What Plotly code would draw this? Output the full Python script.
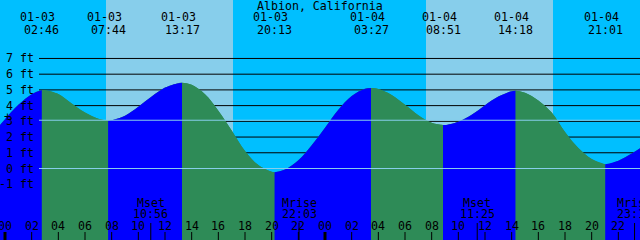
import plotly.graph_objects as go
import numpy as np

TITLE = "Albion, California"

# Hours counted from 01-03 00:00 local time
sample_hours = [-0.375, 0, 1, 2, 3, 4, 5, 6, 7, 8, 9, 10, 11, 12, 13, 14, 15, 16, 17, 18, 19, 20,
                21, 22, 23, 24, 25, 26, 27, 28, 29, 30, 31, 32, 33, 34, 35, 36, 37, 38, 39, 40,
                41, 42, 43, 44, 46, 47, 47.625]
sample_ft = [2.77, 3.14, 4.05, 4.73, 4.98, 4.74, 4.13, 3.56, 3.17, 3.08, 3.36, 3.93, 4.58, 5.15, 5.43,
             5.32, 4.72, 3.68, 2.42, 1.12, 0.22, -0.21,
             -0.07, 0.52, 1.48, 2.60, 3.74, 4.61, 5.07, 5.06, 4.68, 4.05, 3.39, 2.91, 2.77, 2.98,
             3.42, 4.03, 4.58, 4.92, 4.82, 4.33, 3.56, 2.32, 1.30, 0.60, 0.50, 0.95, 1.29]

extreme_hours = [2.767, 7.733, 13.283, 20.217, 27.45, 32.85, 38.3, 45.017]
extreme_ft = [4.99, 3.06, 5.45, -0.24, 5.12, 2.77, 4.95, 0.27]
extreme_dates = ["01-03", "01-03", "01-03", "01-03", "01-04", "01-04", "01-04", "01-04"]
extreme_times = ["02:46", "07:44", "13:17", "20:13", "03:27", "08:51", "14:18", "21:01"]

sunrise_hours = [7.575, 31.575]
sunset_hours = [17.1, 41.1]

moon_hours = [10.933, 22.05, 35.417, 47.217]
moon_names = ["Mset", "Mrise", "Mset", "Mrise"]
moon_times = ["10:56", "22:03", "11:25", "23:13"]

hour_ticks = list(range(0, 49, 2))
day_ticks = [0, 24, 48]
ft_levels = [-1, 0, 1, 2, 3, 4, 5, 6, 7]
MSL_FT = 3.07
DATUM_FT = 0

# ---- style ----
W, H = 640, 240
NIGHT = "#00BFFF"
DAY = "#87CEEB"
FLOOD = "#0000FF"
EBB = "#2E8B57"
LIGHTLINE = "#87CEEB"
FONT = dict(family="DejaVu Sans Mono", size=11.6, color="black")
X_RANGE = [-0.375, 47.625]
Y_RANGE = [-4.548, 10.719]
Y_FLOOR = -7


def py(px):
    """pixel row (from top) -> paper y"""
    return 1 - px / H


fig = go.Figure()

pts = sorted(zip(sample_hours + extreme_hours, sample_ft + extreme_ft))
hrs = np.array([p[0] for p in pts])
fts = np.array([p[1] for p in pts])

# backing fill of whole curve
fig.add_trace(go.Scatter(x=hrs, y=[Y_FLOOR] * len(hrs), mode="lines", line=dict(width=0),
                         hoverinfo="skip", showlegend=False))
fig.add_trace(go.Scatter(x=hrs, y=fts, mode="lines", fill="tonexty", fillcolor=EBB,
                         line=dict(width=0, color=EBB, shape="spline", smoothing=1),
                         hoverinfo="skip", showlegend=False))

bounds = [hrs[0]] + extreme_hours + [hrs[-1]]
for a, b in zip(bounds[:-1], bounds[1:]):
    m = (hrs >= a) & (hrs <= b)
    xs, ys = hrs[m], fts[m]
    color = FLOOD if ys[-1] > ys[0] else EBB
    fig.add_trace(go.Scatter(x=xs, y=[Y_FLOOR] * len(xs), mode="lines", line=dict(width=0),
                             hoverinfo="skip", showlegend=False))
    fig.add_trace(go.Scatter(x=xs, y=ys, mode="lines", fill="tonexty", fillcolor=color,
                             line=dict(width=0, color=color, shape="spline", smoothing=1),
                             hoverinfo="skip", showlegend=False))

shapes = []
for sr, ss in zip(sunrise_hours, sunset_hours):
    shapes.append(dict(type="rect", xref="x", yref="paper", x0=sr, x1=ss, y0=0, y1=1,
                       fillcolor=DAY, line=dict(width=0), layer="below"))
for lv in ft_levels:
    shapes.append(dict(type="line", xref="paper", yref="y", x0=39 / W, x1=1, y0=lv, y1=lv,
                       line=dict(color="black", width=1), layer="below"))
for lv in [DATUM_FT, MSL_FT]:
    shapes.append(dict(type="line", xref="paper", yref="y", x0=39 / W, x1=1, y0=lv, y1=lv,
                       line=dict(color=LIGHTLINE, width=1), layer="above"))
for h in hour_ticks:
    if h in day_ticks:
        continue
    shapes.append(dict(type="line", xref="x", yref="paper", x0=h, x1=h, y0=0, y1=8 / H,
                       line=dict(color="black", width=1), layer="above"))
for h in day_ticks:
    shapes.append(dict(type="line", xref="x", yref="paper", x0=h, x1=h, y0=0, y1=8 / H,
                       line=dict(color="black", width=3), layer="above"))
for h in moon_hours:
    shapes.append(dict(type="line", xref="x", yref="paper", x0=h, x1=h, y0=0, y1=17 / H,
                       line=dict(color="black", width=1), layer="above"))

ann = []
ann.append(dict(text=TITLE, xref="paper", yref="paper", x=0.5, y=py(5.5), showarrow=False,
                xanchor="center", yanchor="middle", font=FONT))
for h, d, t in zip(extreme_hours, extreme_dates, extreme_times):
    ann.append(dict(text=d, xref="x", yref="paper", x=h, y=py(17.3), xshift=-4, showarrow=False,
                    xanchor="center", yanchor="middle", font=FONT))
    ann.append(dict(text=t, xref="x", yref="paper", x=h, y=py(30.2), showarrow=False,
                    xanchor="center", yanchor="middle", font=FONT))
for lv in ft_levels:
    ann.append(dict(text=f"{lv} ft", xref="paper", yref="y", x=36 / W, y=lv, showarrow=False,
                    xanchor="right", yanchor="middle", font=FONT))
ann.append(dict(text="+", xref="paper", yref="paper", x=7 / W, y=py(117), showarrow=False,
                xanchor="center", yanchor="middle", font=FONT))
for h, n, t in zip(moon_hours, moon_names, moon_times):
    ann.append(dict(text=n, xref="x", yref="paper", x=h, y=py(202.5), showarrow=False,
                    xanchor="center", yanchor="middle", font=FONT))
    ann.append(dict(text=t, xref="x", yref="paper", x=h, y=py(213.8), showarrow=False,
                    xanchor="center", yanchor="middle", font=FONT))
for h in hour_ticks:
    ann.append(dict(text=f"{h % 24:02d}", xref="x", yref="paper", x=h, y=py(225.5), showarrow=False,
                    xanchor="center", yanchor="middle", font=FONT))

fig.update_layout(
    width=W, height=H, autosize=False,
    margin=dict(l=0, r=0, t=0, b=0, pad=0),
    paper_bgcolor=NIGHT, plot_bgcolor=NIGHT,
    shapes=shapes, annotations=ann, showlegend=False,
    xaxis=dict(range=X_RANGE, visible=False, fixedrange=True),
    yaxis=dict(range=Y_RANGE, visible=False, fixedrange=True),
)

fig.write_html("out.html", config=dict(displayModeBar=False))
